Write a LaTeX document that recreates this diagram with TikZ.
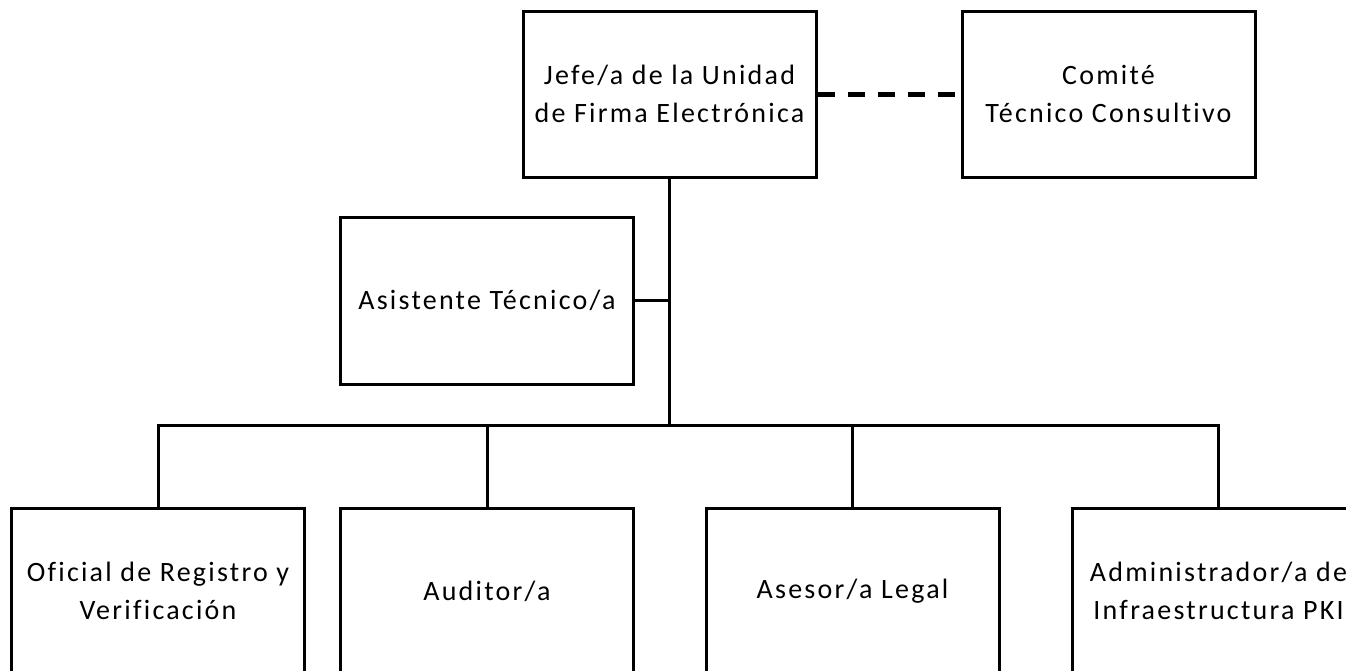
\documentclass[tikz,border=0pt]{standalone}
\usepackage{fontspec}
\setmainfont{Carlito}[LetterSpace=8, Ligatures=NoCommon]
\begin{document}
\begin{tikzpicture}[x=1pt,y=-1pt,
  box/.style={draw, line width=3pt, minimum width=293pt, minimum height=166pt,
    align=center, inner sep=0pt, font=\fontsize{28}{38}\selectfont},
  conn/.style={line width=3pt},
  dashconn/.style={line width=5pt, dash pattern=on 17pt off 13pt}]
\useasboundingbox (0,0) rectangle (1346,670);
\node[box] (jefe) at (669.5,94) {Jefe/a de la Unidad\\de Firma Electrónica};
\node[box] (comite) at (1108.5,94) {Comité\\Técnico Consultivo};
\node[box, minimum height=167pt] (asis) at (487,300.5) {Asistente Técnico/a};
\node[box] (b1) at (158,591) {Oficial de Registro y\\Verificación};
\node[box] (b2) at (487,591) {Auditor/a};
\node[box] (b3) at (852.5,591) {Asesor/a Legal};
\node[box] (b4) at (1218.5,591) {Administrador/a de\\Infraestructura PKI};
\coordinate (bus) at (669.5,425);
\draw[dashconn] (jefe.east) -- (comite.west);
\draw[conn] (jefe.south) -- (bus);
\draw[conn] (asis.east) -- (asis.east -| jefe.south);
\draw[conn] (b1.north) |- (bus) -| (b4.north);
\draw[conn] (b2.north) -- (b2.north |- bus);
\draw[conn] (b3.north) -- (b3.north |- bus);
\end{tikzpicture}
\end{document}
